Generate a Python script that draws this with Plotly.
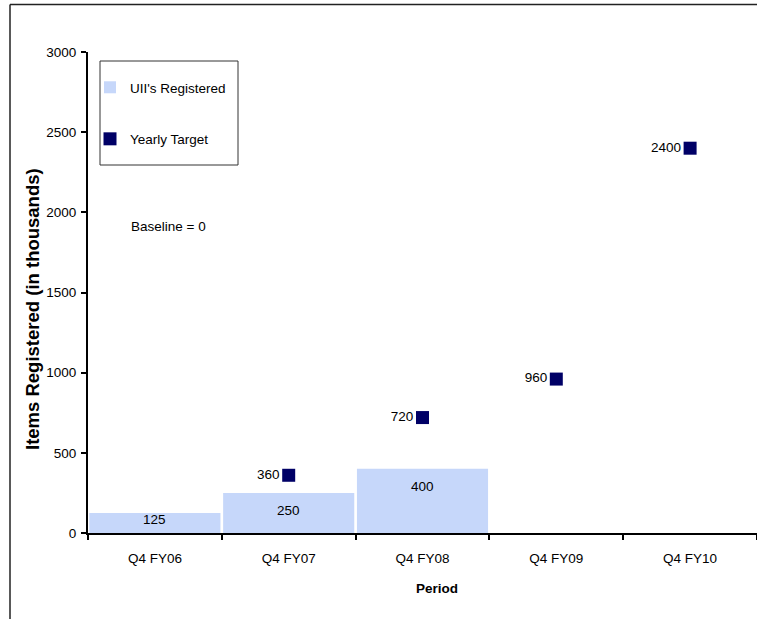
import plotly.graph_objects as go

# Chart data
periods = ["Q4 FY06", "Q4 FY07", "Q4 FY08", "Q4 FY09", "Q4 FY10"]
registered_periods = ["Q4 FY06", "Q4 FY07", "Q4 FY08"]
registered_values = [125, 250, 400]
target_periods = ["Q4 FY07", "Q4 FY08", "Q4 FY09", "Q4 FY10"]
target_values = [360, 720, 960, 2400]
y_ticks = [0, 500, 1000, 1500, 2000, 2500, 3000]
Y_MAX = 3000

W, H = 757, 619
ML, MR, MT, MB = 88, 0, 52, 86
PW, PH = W - ML - MR, H - MT - MB


def px_x(p):
    return (p - ML) / PW


def px_y(p):
    return (H - MB - p) / PH


FONT = "Liberation Sans, Arial, sans-serif"
FS = 13.5
BAR_COLOR = "#C6D7FA"
TARGET_COLOR = "#000066"

fig = go.Figure()

fig.add_trace(go.Bar(
    x=registered_periods,
    y=registered_values,
    name="UII's Registered",
    marker=dict(color=BAR_COLOR, line=dict(width=0)),
    legendgroup="a",
))

fig.add_trace(go.Scatter(
    x=target_periods,
    y=target_values,
    name="Yearly Target",
    mode="markers+text",
    marker=dict(symbol="square", size=13, color=TARGET_COLOR, line=dict(width=0)),
    text=[str(v) for v in target_values],
    textposition="middle left",
    textfont=dict(family=FONT, size=FS, color="black"),
    legendgroup="b",
))

annotations = []

# value labels just inside the top of each bar (short bars get a tighter fit)
for cat, val in zip(registered_periods, registered_values):
    bar_px = val / Y_MAX * PH
    annotations.append(dict(
        x=cat, y=val, xref="x", yref="y", text=str(val), showarrow=False,
        xanchor="center", yanchor="top", yshift=-8 if bar_px > 30 else 3,
        font=dict(family=FONT, size=FS, color="black"),
    ))

annotations += [
    dict(text="Baseline = 0", xref="paper", yref="paper",
         x=px_x(168), y=px_y(227), xanchor="center", yanchor="middle", showarrow=False,
         font=dict(family=FONT, size=FS, color="black")),
    dict(text="<b>Items Registered (in thousands)</b>", xref="paper", yref="paper",
         x=px_x(32), y=px_y(309), xanchor="center", yanchor="middle",
         textangle=-90, showarrow=False,
         font=dict(family=FONT, size=18.5, color="black")),
    dict(text="<b>Period</b>", xref="paper", yref="paper",
         x=px_x(437), y=px_y(588), xanchor="center", yanchor="middle", showarrow=False,
         font=dict(family=FONT, size=FS, color="black")),
]

shapes = [
    # outer frame lines (top and left)
    dict(type="line", xref="paper", yref="paper",
         x0=px_x(10), x1=px_x(W + 5), y0=px_y(4.5), y1=px_y(4.5),
         line=dict(color="#222222", width=1.5)),
    dict(type="line", xref="paper", yref="paper",
         x0=px_x(10), x1=px_x(10), y0=px_y(4.5), y1=px_y(H + 5),
         line=dict(color="#222222", width=1.5)),
    # legend box
    dict(type="rect", xref="paper", yref="paper",
         x0=px_x(100), x1=px_x(238), y0=px_y(61), y1=px_y(165),
         line=dict(color="#333333", width=1), fillcolor="rgba(0,0,0,0)"),
]

fig.update_layout(
    width=W, height=H,
    margin=dict(l=ML, r=MR, t=MT, b=MB, pad=0),
    paper_bgcolor="white",
    plot_bgcolor="white",
    font=dict(family=FONT, size=FS, color="black"),
    bargap=0.02,
    showlegend=True,
    legend=dict(
        x=px_x(90), y=px_y(72), xanchor="left", yanchor="top",
        bgcolor="rgba(0,0,0,0)", borderwidth=0,
        tracegroupgap=31,
        font=dict(family=FONT, size=FS, color="black"),
    ),
    shapes=shapes,
    annotations=annotations,
    xaxis=dict(
        type="category",
        categoryorder="array", categoryarray=periods,
        range=[-0.5, len(periods) - 0.5],
        showline=True, linecolor="black", linewidth=2,
        ticks="outside", tickson="boundaries", ticklen=5, tickwidth=2, tickcolor="black",
        ticklabelstandoff=12,
        showgrid=False, zeroline=False,
        tickfont=dict(family=FONT, size=FS, color="black"),
    ),
    yaxis=dict(
        range=[0, Y_MAX],
        tickvals=y_ticks,
        showline=True, linecolor="black", linewidth=2,
        ticks="outside", ticklen=5, tickwidth=2, tickcolor="black",
        ticklabelstandoff=2,
        showgrid=False, zeroline=False,
        tickfont=dict(family=FONT, size=FS, color="black"),
    ),
)

fig.write_html("out.html")
